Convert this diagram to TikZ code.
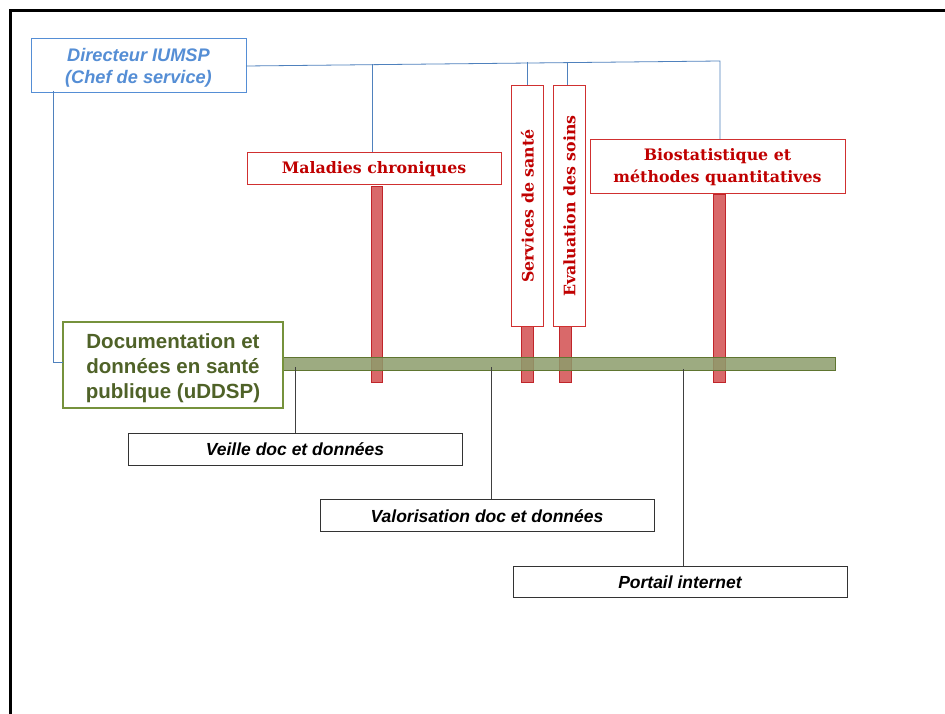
\documentclass[tikz,border=0pt]{standalone}
\usepackage{fontspec}
\setmainfont{Liberation Sans}
\newfontfamily\slabfont{DejaVu Serif}
\definecolor{dirblue}{HTML}{558ED5}
\definecolor{lineblue}{HTML}{4F81BD}
\definecolor{darkred}{HTML}{C00000}
\definecolor{barred}{HTML}{D9696A}
\definecolor{barredline}{HTML}{C0252A}
\definecolor{boxred}{HTML}{D03030}
\definecolor{dgreen}{HTML}{4F6228}
\definecolor{boxgreen}{HTML}{76923C}
\definecolor{bargreen}{HTML}{8C9D6C}
\definecolor{bargreenline}{HTML}{5F7530}
\begin{document}
\begin{tikzpicture}[x=1pt,y=-1pt,
  dirbox/.style={draw=dirblue, line width=1pt, fill=white},
  redbox/.style={draw=boxred, line width=1pt, fill=white},
  greenbox/.style={draw=boxgreen, line width=1.2pt, fill=white},
  blackbox/.style={draw=black!80, line width=0.9pt, fill=white},
  redbar/.style={draw=barredline, line width=0.8pt, fill=barred},
  greenbar/.style={draw=bargreenline, line width=0.9pt, fill=bargreen, fill opacity=0.85},
  blueline/.style={draw=lineblue, line width=0.8pt},
  blackline/.style={draw=black!75, line width=0.9pt},
  redtxt/.style={text=darkred, font=\slabfont\bfseries\fontsize{15.8}{22}\selectfont, align=center},
  blktxt/.style={text=black, font=\bfseries\itshape\fontsize{17.5}{20}\selectfont}
]
\useasboundingbox (0,0) rectangle (945,714);
\fill[white] (0,0) rectangle (945,714);
% frame
\draw[line width=3.5pt, black] (945,10.5) -- (10.5,10.5) -- (10.5,714);

% director
\draw[dirbox] (31,39) rectangle (246,93);
\node[text=dirblue, font=\bfseries\itshape\fontsize{18.2}{22}\selectfont, align=center] (dir) at (138.5,67.5) {Directeur IUMSP\\(Chef de service)};
\coordinate (dirR) at (246,66);
\coordinate (dirBL) at (53,91);

% blue hierarchy lines
\coordinate (j1) at (720,61);
\draw[blueline] (dirR) -- (j1) -- (720,140);
\draw[blueline] (372,64.5) -- (372,153);
\draw[blueline] (527,62) -- (527,86);
\draw[blueline] (567,62) -- (567,86);

% red bars
\draw[redbar] (371,186) rectangle (382,382);
\draw[redbar] (521,326) rectangle (533,382);
\draw[redbar] (559,326) rectangle (571,382);
\draw[redbar] (713,194) rectangle (725,382);

% red boxes
\draw[redbox] (247,153) rectangle (501,185);
\node[redtxt] (mal) at (374,169) {Maladies chroniques};
\draw[redbox] (511,86) rectangle (543,326);
\node[redtxt, rotate=90] (serv) at (527.5,206) {Services de santé};
\draw[redbox] (553,86) rectangle (585,326);
\node[redtxt, rotate=90] (eval) at (569.5,206) {Evaluation des soins};
\draw[redbox] (590,140) rectangle (845,194);
\node[redtxt] (bio) at (717.5,167) {Biostatistique et\\méthodes quantitatives};

% green bar
\draw[greenbar] (283,357) rectangle (835,370);

% uDDSP box
\draw[greenbox] (63,322) rectangle (283,408);
\node[text=dgreen, font=\bfseries\fontsize{20.5}{25}\selectfont, align=center] (ud) at (173,368) {Documentation et\\données en santé\\publique (uDDSP)};
\draw[blueline] (dirBL) -- (53,362) -- (63,362);

% black connectors
\draw[blackline] (295,367) -- (295,433);
\draw[blackline] (491,367) -- (491,499);
\draw[blackline] (683,369) -- (683,566);

% black boxes
\draw[blackbox] (128,433) rectangle (462,465);
\node[blktxt] (veille) at (295,449.5) {Veille doc et données};
\draw[blackbox] (320,499) rectangle (654,531);
\node[blktxt] (valo) at (487,516) {Valorisation doc et données};
\draw[blackbox] (513,566) rectangle (847,597);
\node[blktxt] (portail) at (680,582) {Portail internet};
\end{tikzpicture}
\end{document}
